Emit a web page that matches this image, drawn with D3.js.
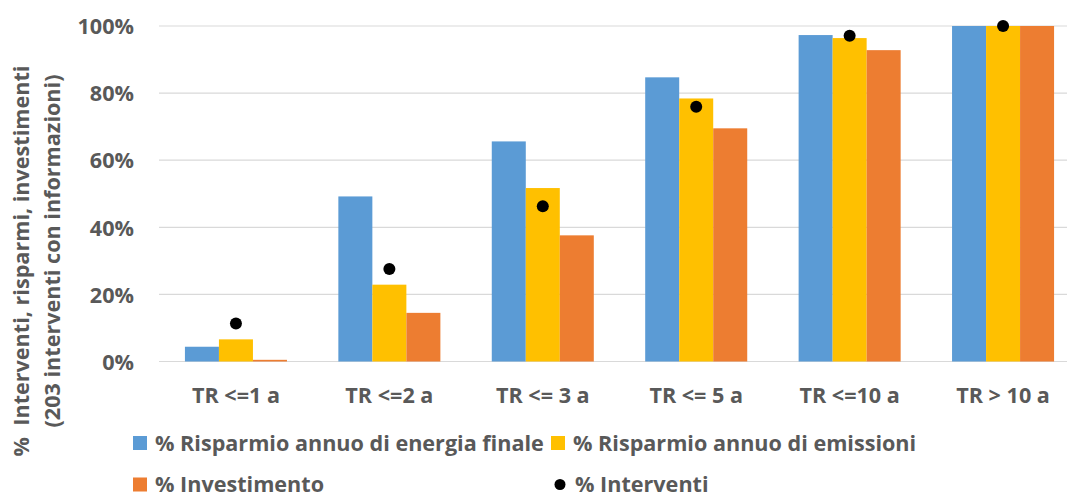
<!DOCTYPE html>
<html>
<head>
<meta charset="utf-8">
<script src="https://cdn.jsdelivr.net/npm/d3@7"></script>
<style>
  html, body { margin: 0; padding: 0; background: #fff; }
  svg { display: block; }
  text { font-family: "Open Sans", "DejaVu Sans", sans-serif; font-weight: bold; fill: #595959; }
</style>
</head>
<body>
<svg id="chart" width="1067" height="493"></svg>
<script>
// ---- data ----
const categories = ["TR <=1 a", "TR <=2 a", "TR <= 3 a", "TR <= 5 a", "TR <=10 a", "TR > 10 a"];
const seriesNames = ["% Risparmio annuo di energia finale", "% Risparmio annuo di emissioni", "% Investimento"];
const energia = [4.4, 49.2, 65.6, 84.7, 97.3, 100];
const emissioni = [6.6, 22.9, 51.7, 78.4, 96.4, 100];
const investimento = [0.5, 14.5, 37.6, 69.5, 92.8, 100];
const interventiName = "% Interventi";
const interventi = [11.3, 27.6, 46.3, 75.9, 97.1, 100];
const yTicks = [0, 20, 40, 60, 80, 100];
const yLabelLines = ["%  Interventi, risparmi, investimenti", "(203 interventi con informazioni)"];

// ---- styles / layout ----
const colors = ["#5B9BD5", "#FFC000", "#ED7D31"];
const fs = "21.6px";
const svg = d3.select("#chart");
const plotLeft = 159, plotRight = 1080, plotTop = 26, plotBottom = 361.5;

const x0 = d3.scaleBand().domain(categories).range([plotLeft, plotRight])
  .paddingInner(0.335).paddingOuter(0.169);
const x1 = d3.scaleBand().domain(d3.range(seriesNames.length)).range([0, x0.bandwidth()]).padding(0);
const y = d3.scaleLinear().domain([0, 100]).range([plotBottom, plotTop]);

// gridlines
svg.append("g").selectAll("line").data(yTicks).join("line")
  .attr("x1", plotLeft).attr("x2", plotRight)
  .attr("y1", d => y(d)).attr("y2", d => y(d))
  .attr("stroke", "#D9D9D9").attr("stroke-width", 1.2);

// y axis labels
const yAxis = d3.axisLeft(y).tickValues(yTicks).tickFormat(d => d + "%").tickSize(0).tickPadding(0);
const yg = svg.append("g").attr("transform", `translate(134,0)`).call(yAxis);
yg.select(".domain").remove();
yg.selectAll("text").style("font-size", fs).attr("dy", "0.36em").attr("fill", "#595959");

// bars
const seriesData = [energia, emissioni, investimento];
const groups = svg.append("g").selectAll("g").data(categories).join("g")
  .attr("transform", c => `translate(${x0(c)},0)`);
groups.selectAll("rect").data((c, i) => seriesData.map((s, k) => ({ k, v: s[i] }))).join("rect")
  .attr("x", d => x1(d.k)).attr("width", x1.bandwidth())
  .attr("y", d => y(d.v)).attr("height", d => y(0) - y(d.v))
  .attr("fill", d => colors[d.k]);

// interventi dots
svg.append("g").selectAll("circle").data(interventi).join("circle")
  .attr("cx", (d, i) => x0(categories[i]) + x0.bandwidth() / 2)
  .attr("cy", d => y(d)).attr("r", 6).attr("fill", "#000");

// x axis labels
const xAxis = d3.axisBottom(x0).tickSize(0).tickPadding(0);
const xg = svg.append("g").attr("transform", `translate(0,${plotBottom})`).call(xAxis);
xg.select(".domain").remove();
xg.selectAll("text").style("font-size", fs).attr("y", 41.5).attr("dy", 0).attr("fill", "#595959");

// y axis title
const yTitle = svg.append("g");
yTitle.append("text").attr("transform", "translate(29,261) rotate(-90)")
  .attr("text-anchor", "middle").style("font-size", fs).style("white-space", "pre")
  .text(yLabelLines[0]);
yTitle.append("text").attr("transform", "translate(60,251) rotate(-90)")
  .attr("text-anchor", "middle").style("font-size", fs)
  .text(yLabelLines[1]);

// legend
const legendItems = [
  { name: seriesNames[0], type: "rect", color: colors[0], x: 133, y: 443 },
  { name: seriesNames[1], type: "rect", color: colors[1], x: 551, y: 443 },
  { name: seriesNames[2], type: "rect", color: colors[2], x: 133, y: 484.5 },
  { name: interventiName, type: "dot", color: "#000", x: 553, y: 484.5 }
];
const lg = svg.append("g").selectAll("g").data(legendItems).join("g")
  .attr("transform", d => `translate(${d.x},${d.y})`);
lg.each(function(d) {
  const g = d3.select(this);
  if (d.type === "rect") {
    g.append("rect").attr("x", 0).attr("y", -7).attr("width", 14).attr("height", 14).attr("fill", d.color);
  } else {
    g.append("circle").attr("cx", 7).attr("cy", 0).attr("r", 5.5).attr("fill", d.color);
  }
  g.append("text").attr("x", 22).attr("y", 7.5).style("font-size", fs).text(d.name);
});
</script>
</body>
</html>
